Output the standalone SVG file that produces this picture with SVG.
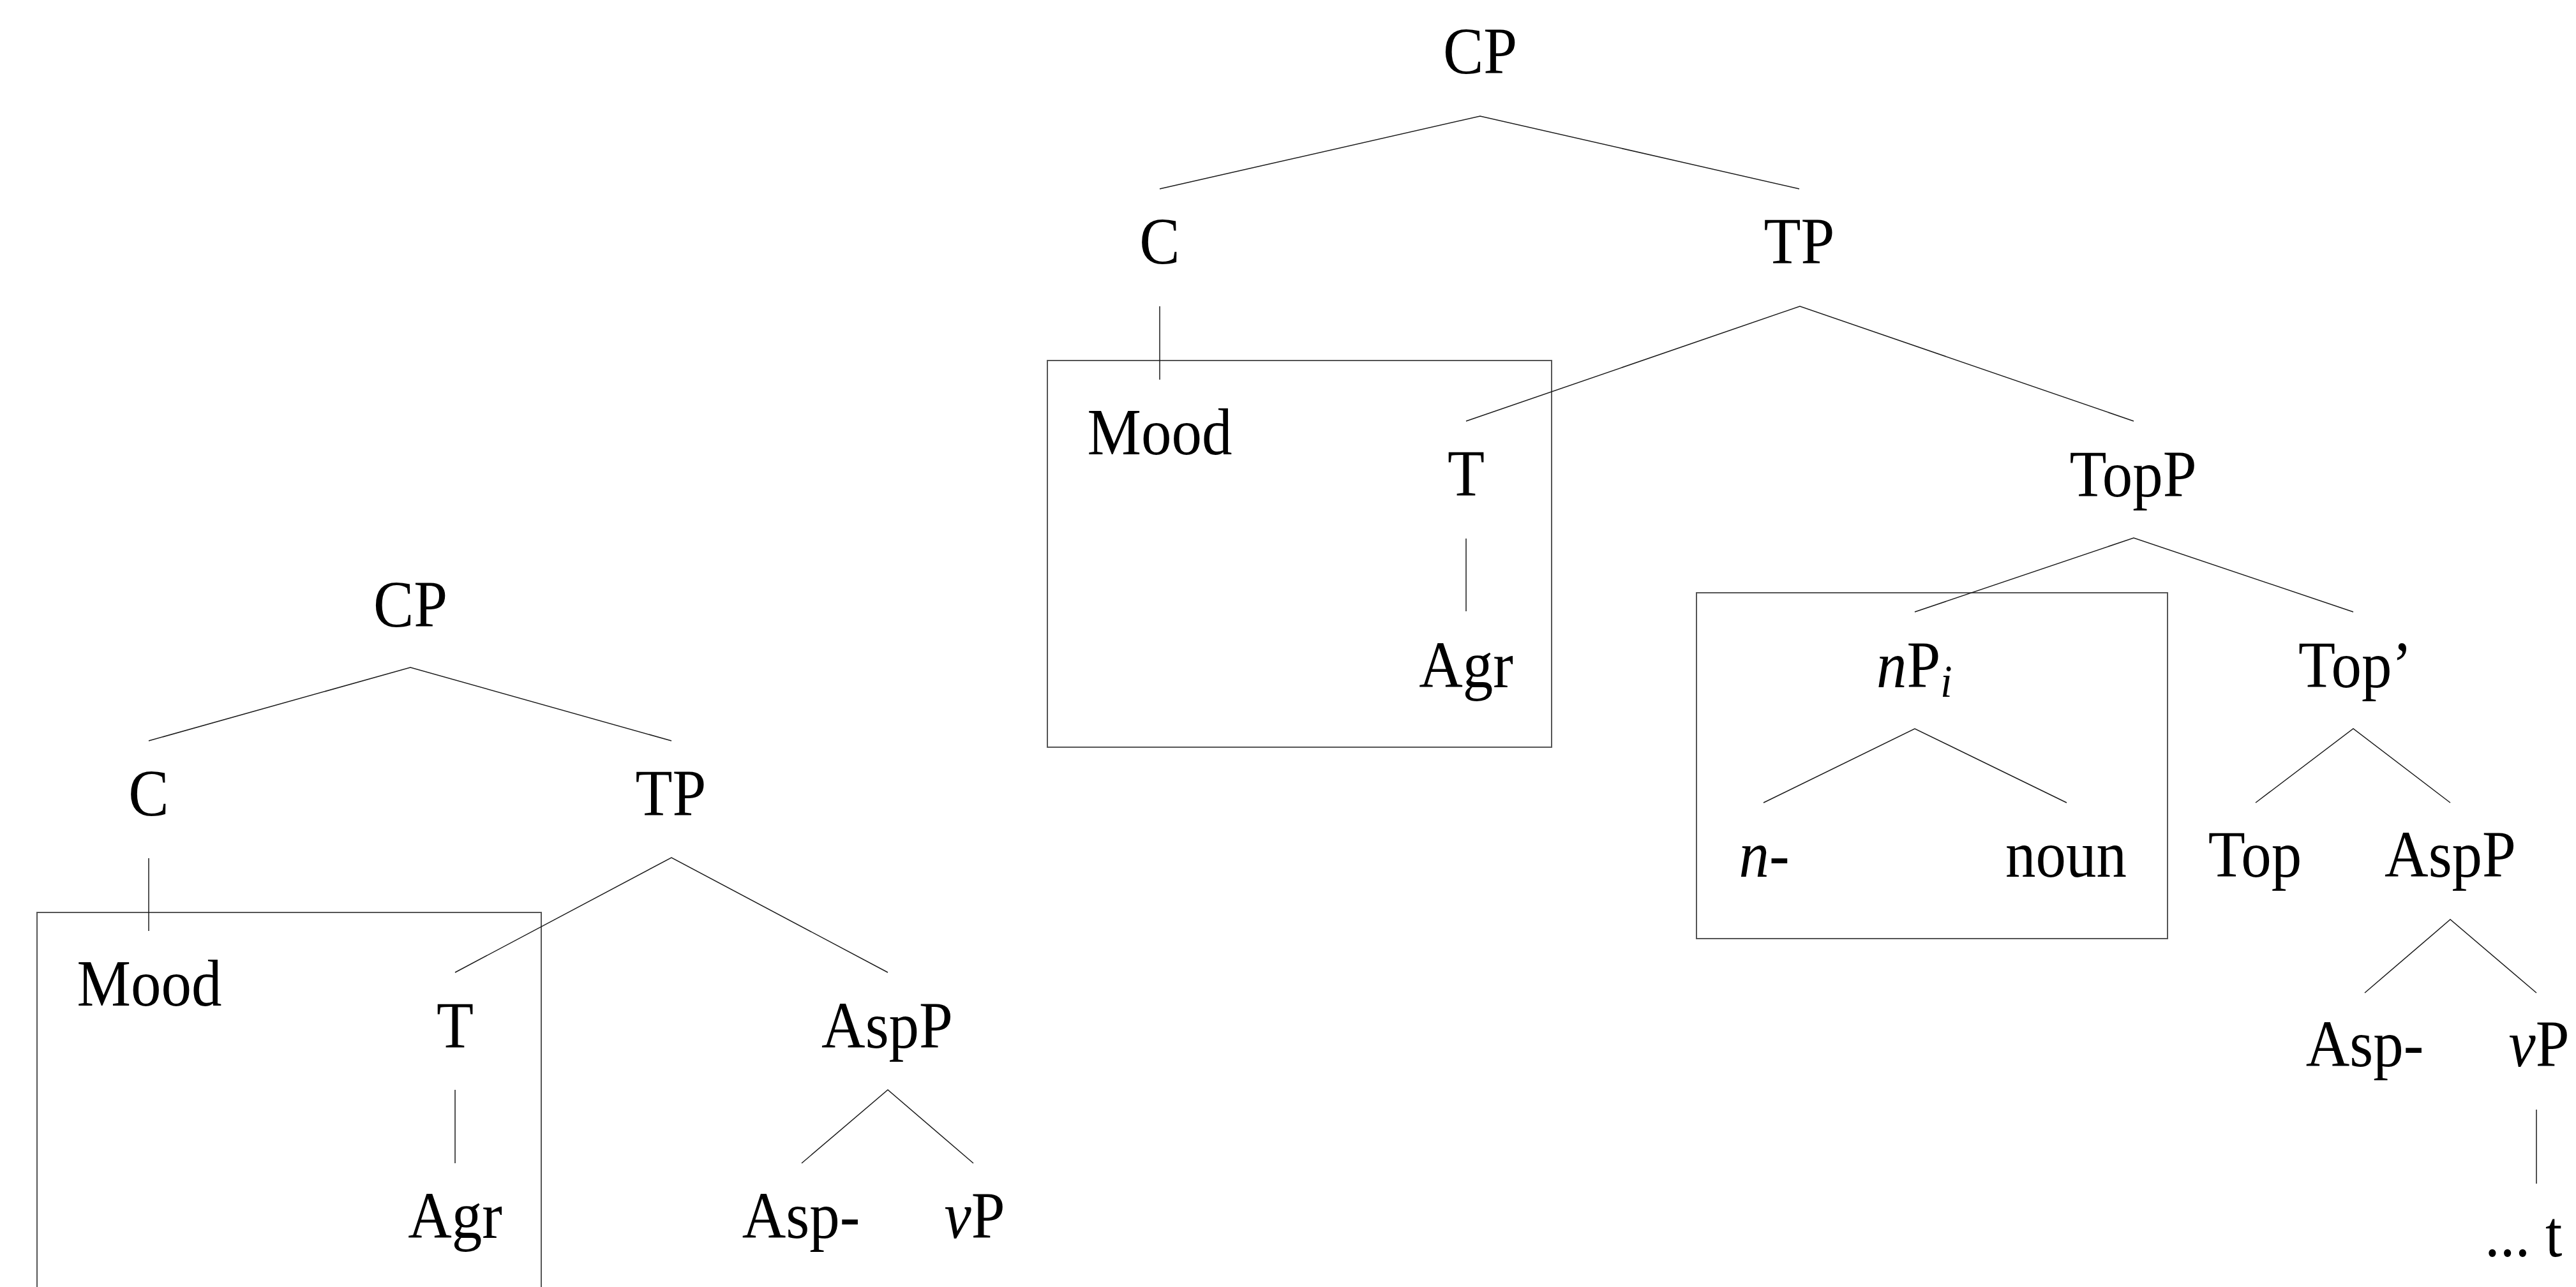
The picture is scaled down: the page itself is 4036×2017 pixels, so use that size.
<svg xmlns="http://www.w3.org/2000/svg" width="4036" height="2017" viewBox="0 0 4036 2017">
  <style>
    .lbl { font-family: "Liberation Serif", "Times New Roman", serif; font-size: 95px; fill: #000; text-anchor: middle; }
    .lbl-start { text-anchor: start; }
    .it { font-style: italic; }
    .edge { stroke: #1a1a1a; stroke-width: 1.5; fill: none; stroke-linecap: butt; }
    .box { stroke: #555; stroke-width: 2; fill: none; }
  </style>
  <rect x="0" y="0" width="4036" height="2017" fill="#fff"/>

  <!-- grouping boxes -->
  <g id="boxes">
    <rect class="box" x="58" y="1430" width="790" height="620"/>
    <rect class="box" x="1641" y="565" width="790" height="606"/>
    <rect class="box" x="2658" y="929" width="738" height="542"/>
  </g>

  <!-- tree branches -->
  <g id="connectors">
    <!-- small tree -->
    <polyline class="edge" points="233,1161 643,1046 1052,1161"/>
    <line class="edge" x1="233" y1="1345" x2="233" y2="1459"/>
    <polyline class="edge" points="713,1524 1052,1344 1391,1524"/>
    <line class="edge" x1="713" y1="1708" x2="713" y2="1823"/>
    <polyline class="edge" points="1256,1823 1391,1708 1525,1823"/>
    <!-- large tree -->
    <polyline class="edge" points="1817,296 2319,182 2819,296"/>
    <line class="edge" x1="1817" y1="480" x2="1817" y2="595"/>
    <polyline class="edge" points="2297,660 2820,480 3343,660"/>
    <line class="edge" x1="2297" y1="844" x2="2297" y2="958"/>
    <polyline class="edge" points="3000,959 3343,843 3687,959"/>
    <polyline class="edge" points="2763,1258 3000,1142 3238,1258"/>
    <polyline class="edge" points="3534,1258 3687,1142 3839,1258"/>
    <polyline class="edge" points="3705,1556 3839,1441 3974,1556"/>
    <line class="edge" x1="3974" y1="1739" x2="3974" y2="1855"/>
  </g>

  <!-- small tree nodes -->
  <g id="s-cp"><text class="lbl" transform="translate(643 982) scale(1 1.1)">CP</text></g>
  <g id="s-c"><text class="lbl" transform="translate(233 1278) scale(1 1.1)">C</text></g>
  <g id="s-tp"><text class="lbl" transform="translate(1051 1278) scale(1 1.1)">TP</text></g>
  <g id="s-mood"><text class="lbl" transform="translate(234 1576) scale(1 1.1)">Mood</text></g>
  <g id="s-t"><text class="lbl" transform="translate(713 1642) scale(1 1.1)">T</text></g>
  <g id="s-aspp"><text class="lbl" transform="translate(1390 1642) scale(1 1.1)">AspP</text></g>
  <g id="s-agr"><text class="lbl" transform="translate(713 1940) scale(1 1.1)">Agr</text></g>
  <g id="s-asp"><text class="lbl" transform="translate(1255 1940) scale(1 1.1)">Asp-</text></g>
  <g id="s-vp"><text class="lbl" transform="translate(1527 1940) scale(1 1.1)"><tspan class="it">v</tspan>P</text></g>

  <!-- large tree nodes -->
  <g id="l-cp"><text class="lbl" transform="translate(2319 115) scale(1 1.1)">CP</text></g>
  <g id="l-c"><text class="lbl" transform="translate(1817 413) scale(1 1.1)">C</text></g>
  <g id="l-tp"><text class="lbl" transform="translate(2819 413) scale(1 1.1)">TP</text></g>
  <g id="l-mood"><text class="lbl" transform="translate(1817 712) scale(1 1.1)">Mood</text></g>
  <g id="l-t"><text class="lbl" transform="translate(2297 777) scale(1 1.1)">T</text></g>
  <g id="l-topp"><text class="lbl" transform="translate(3342 778) scale(1 1.1)">TopP</text></g>
  <g id="l-agr"><text class="lbl" transform="translate(2297 1077) scale(1 1.1)">Agr</text></g>
  <g id="l-np"><text class="lbl lbl-start" transform="translate(2940 1077) scale(1 1.1)"><tspan class="it">n</tspan>P<tspan class="it" font-size="66" dy="14">i</tspan></text></g>
  <g id="l-topbar"><text class="lbl" transform="translate(3690 1077) scale(1 1.1)">Top’</text></g>
  <g id="l-n"><text class="lbl" transform="translate(2764 1374) scale(1 1.1)"><tspan class="it">n</tspan>-</text></g>
  <g id="l-noun"><text class="lbl" transform="translate(3237 1374) scale(1 1.1)">noun</text></g>
  <g id="l-top"><text class="lbl" transform="translate(3533 1374) scale(1 1.1)">Top</text></g>
  <g id="l-aspp"><text class="lbl" transform="translate(3839 1374) scale(1 1.1)">AspP</text></g>
  <g id="l-asp"><text class="lbl" transform="translate(3705 1671) scale(1 1.1)">Asp-</text></g>
  <g id="l-vp"><text class="lbl" transform="translate(3978 1671) scale(1 1.1)"><tspan class="it">v</tspan>P</text></g>
  <g id="l-trace"><text class="lbl lbl-start" transform="translate(3893 1969) scale(1 1.1)">...  t</text></g>
</svg>
